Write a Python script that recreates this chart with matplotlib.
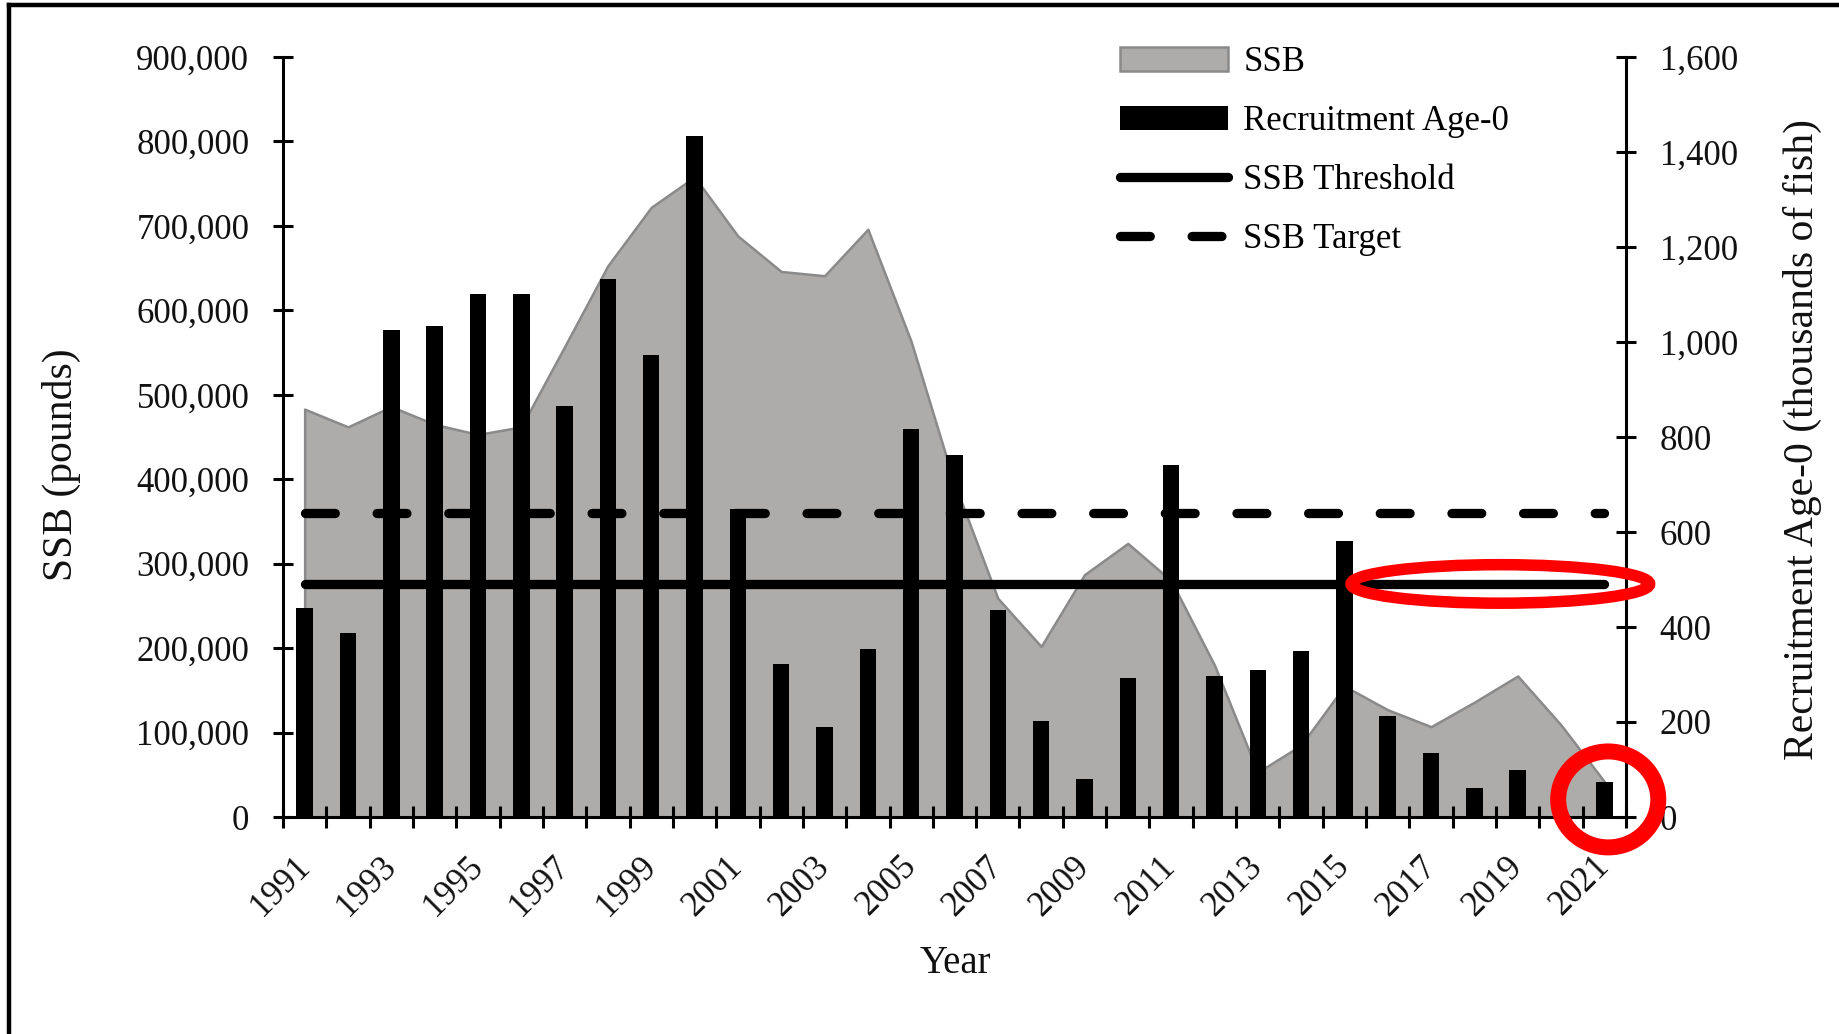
import numpy as np
import matplotlib
matplotlib.use("Agg")
import matplotlib.pyplot as plt
from matplotlib.patches import Ellipse
from matplotlib.lines import Line2D
from matplotlib.ticker import FuncFormatter

# ---------------- data ----------------
years = list(range(1991, 2022))
ssb = [483000, 462000, 486000, 465000, 453000, 462000, 557000, 653000, 722000, 758000,
       688000, 646000, 641000, 696000, 563000, 395000, 259000, 202000, 287000, 324000,
       280000, 180000, 53000, 85000, 155000, 127000, 107000, 136000, 167000, 109000, 42000]
recruitment = [440, 388, 1025, 1033, 1102, 1102, 866, 1132, 973, 1433,
               648, 323, 190, 354, 817, 763, 436, 202, 81, 293,
               741, 297, 310, 350, 581, 212, 134, 62, 100, 0, 74]
ssb_threshold = 276000
ssb_target = 360000
left_ticks = list(range(0, 900001, 100000))
right_ticks = list(range(0, 1601, 200))
year_labels = [str(y) for y in years[::2]]

# ---------------- style ----------------
plt.rcParams['font.family'] = ['Liberation Serif', 'DejaVu Serif']
W, H, DPI = 1839, 1034, 100
fill_col = '#AEABAB'
edge_col = '#8A8A8A'
txt_col = '#111111'
TICK_FS = 25

fig = plt.figure(figsize=(W / DPI, H / DPI), dpi=DPI)
ax = fig.add_axes([283 / W, 1 - 817 / H, (1626 - 283) / W, (817 - 57) / H])
ax2 = ax.twinx()

x = np.arange(len(years))

area = ax.fill_between(x, 0, ssb, facecolor=fill_col, edgecolor=edge_col,
                       linewidth=1.8, zorder=1, label='SSB')
thr, = ax.plot(x, np.full(len(x), ssb_threshold), color='black', lw=6.7,
               solid_capstyle='round', zorder=2, label='SSB Threshold')
tgt, = ax.plot(x, np.full(len(x), ssb_target), color='black', lw=6.7,
               dashes=(3.2, 4.5), dash_capstyle='round', zorder=2, label='SSB Target')
bars = ax2.bar(x, recruitment, width=0.38, color='black', linewidth=0, zorder=2,
               label='Recruitment Age-0')

# ---------------- axes ----------------
ax.set_xlim(-0.5, len(years) - 0.5)
ax.set_ylim(0, 900000)
ax2.set_ylim(0, 1600)
ax.set_yticks(left_ticks)
ax2.set_yticks(right_ticks)
fmt = FuncFormatter(lambda v, p: f'{int(v):,}')
ax.yaxis.set_major_formatter(fmt)
ax2.yaxis.set_major_formatter(fmt)

ax.set_xticks(x[::2], labels=year_labels)
ax.set_xticks(np.arange(len(years) + 1) - 0.5, minor=True)
ax.tick_params(axis='x', which='major', length=0, pad=32, labelsize=TICK_FS,
               labelcolor=txt_col)
ax.tick_params(axis='x', which='minor', direction='inout', length=15.5, width=2.2)
for lbl in ax.get_xticklabels():
    lbl.set_rotation(45)
    lbl.set_ha('right')
    lbl.set_va('center')
    lbl.set_rotation_mode('anchor')

ax.tick_params(axis='y', direction='inout', length=14.5, width=2.2, pad=17,
               labelsize=TICK_FS, labelcolor=txt_col)
ax2.tick_params(axis='y', direction='inout', length=14.5, width=2.2, pad=17,
                labelsize=TICK_FS, labelcolor=txt_col)

for s in ['top', 'right']:
    ax.spines[s].set_visible(False)
for s in ['top', 'left', 'bottom']:
    ax2.spines[s].set_visible(False)
for sp in [ax.spines['left'], ax.spines['bottom'], ax2.spines['right']]:
    sp.set_linewidth(2.2)

ax.set_ylabel('SSB (pounds)', fontsize=30, color=txt_col)
ax.yaxis.set_label_coords(-0.1653, 0.4632)
ax.yaxis.label.set_va('center')
ax2.set_ylabel('Recruitment Age-0 (thousands of fish)', fontsize=30, color=txt_col)
ax2.yaxis.set_label_coords(1.1311, 0.4967)
ax2.yaxis.label.set_va('center')
ax.set_xlabel('Year', fontsize=28, color=txt_col)
ax.xaxis.set_label_coords(0.5004, -0.193)
ax.xaxis.label.set_va('center')

# ---------------- legend ----------------
ax2.legend([area, bars, thr, tgt],
           ['SSB', 'Recruitment Age-0', 'SSB Threshold', 'SSB Target'],
           loc='upper left', bbox_to_anchor=(1120 / W, 1 - 46 / H),
           bbox_transform=fig.transFigure, frameon=False, fontsize=25,
           borderpad=0, borderaxespad=0, handlelength=3.1, handleheight=0.66,
           handletextpad=0.45, labelspacing=0.75)

# ---------------- red highlight annotations ----------------
ring_line = Ellipse((27.6, ssb_threshold), width=6.89, height=45600,
                    transform=ax.transData, fill=False, edgecolor='#FF0000',
                    lw=8.3, zorder=10, clip_on=False)
ax2.add_artist(ring_line)
ring_bar = Ellipse((x[-1] + 0.09, recruitment[-1] / 2), width=2.31, height=202,
                   transform=ax2.transData, fill=False, edgecolor='#FF0000',
                   lw=11.5, zorder=10, clip_on=False)
ax2.add_artist(ring_bar)

# ---------------- outer frame (cropped screenshot border) ----------------
fig.add_artist(Line2D([9 / W, 9 / W], [0, 1 - 4.7 / H], transform=fig.transFigure,
                      color='black', lw=3.2, solid_capstyle='projecting'))
fig.add_artist(Line2D([9 / W, 1], [1 - 4.7 / H, 1 - 4.7 / H], transform=fig.transFigure,
                      color='black', lw=3.2, solid_capstyle='projecting'))

fig.savefig('out.png', dpi=DPI)
